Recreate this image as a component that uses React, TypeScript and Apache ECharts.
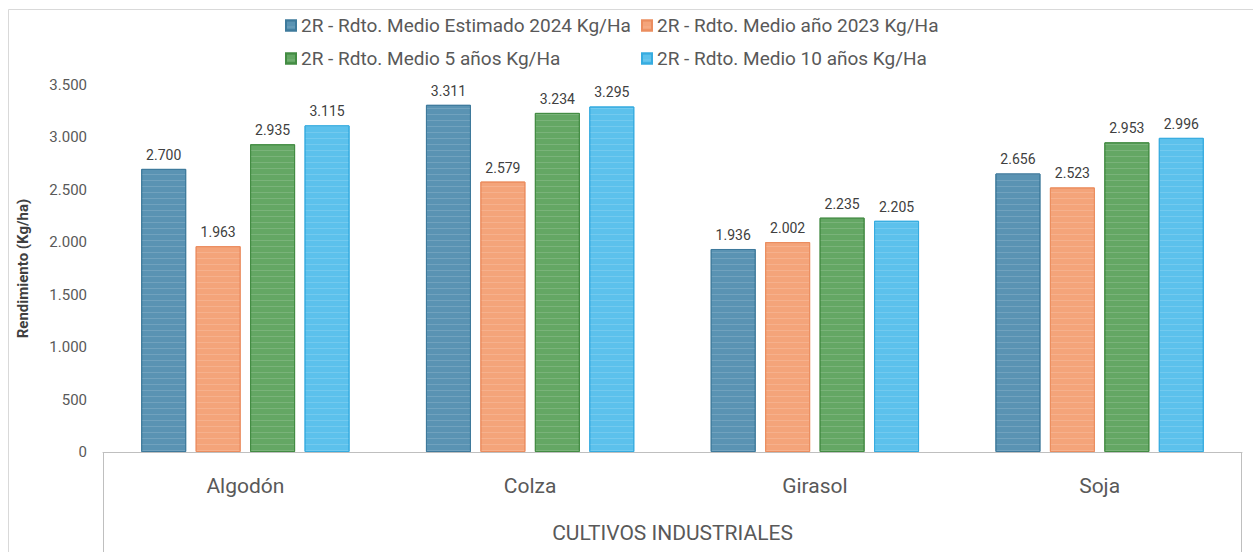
import React, { useEffect, useRef } from "react";
import * as echarts from "echarts";

const categories = ["Algodón", "Colza", "Girasol", "Soja"];
const seriesNames = [
  "2R - Rdto. Medio Estimado 2024 Kg/Ha",
  "2R - Rdto. Medio año 2023 Kg/Ha",
  "2R - Rdto. Medio 5 años Kg/Ha",
  "2R - Rdto. Medio 10 años Kg/Ha",
];
const est2024 = [2700, 3311, 1936, 2656];
const anio2023 = [1963, 2579, 2002, 2523];
const medio5 = [2935, 3234, 2235, 2953];
const medio10 = [3115, 3295, 2205, 2996];
const yMin = 0;
const yMax = 3500;
const yStep = 500;
const groupLabel = "CULTIVOS INDUSTRIALES";
const yTitle = "Rendimiento (Kg/ha)";

const fills = ["#5A93B3", "#F4A47A", "#64A764", "#5CC1EC"];
const borders = ["#3E7A9C", "#EB8D5F", "#438C43", "#36ACE0"];

const fmt = (v: number) =>
  String(Math.round(v)).replace(/\B(?=(\d{3})+(?!\d))/g, ".");

export default function App() {
  const ref = useRef<HTMLDivElement>(null);
  useEffect(() => {
    document.body.style.margin = "0";
    const chart = echarts.init(ref.current!, null, { renderer: "svg" });
    const W = 1253;
    const H = 552;
    const gl = 103;
    const gr = 11;
    const gt = 85;
    const gb = 100;
    const font = "Roboto, 'Noto Sans', sans-serif";
    const values = [est2024, anio2023, medio5, medio10];
    const legendPos = [
      [280, 11],
      [636, 11],
      [280, 44],
      [636, 44],
    ];
    chart.setOption({
      animation: false,
      backgroundColor: "#ffffff",
      textStyle: { fontFamily: font },
      grid: { left: gl, right: gr, top: gt, bottom: gb, containLabel: false },
      legend: seriesNames.map((n, i) => ({
        data: [n],
        left: legendPos[i][0],
        top: legendPos[i][1],
        itemWidth: 10,
        itemHeight: 10,
        itemGap: 6,
        icon: "rect",
        textStyle: { color: "#595959", fontSize: 19, fontFamily: font },
      })),
      xAxis: {
        type: "category",
        data: categories,
        axisLine: { show: true, lineStyle: { color: "#BFBFBF", width: 1 } },
        axisTick: { show: false },
        axisLabel: { color: "#595959", fontSize: 21, margin: 23, fontFamily: font },
        name: groupLabel,
        nameLocation: "middle",
        nameGap: 70,
        nameTextStyle: { color: "#595959", fontSize: 21, fontFamily: font },
      },
      yAxis: {
        type: "value",
        min: yMin,
        max: yMax,
        interval: yStep,
        axisLine: { show: false },
        axisTick: { show: false },
        splitLine: { show: false },
        axisLabel: {
          color: "#595959",
          fontSize: 15,
          margin: 16,
          fontFamily: font,
          formatter: (v: number) => fmt(v),
        },
        name: yTitle,
        nameLocation: "middle",
        nameGap: 73,
        nameRotate: 90,
        nameTextStyle: { color: "#404040", fontSize: 15, fontWeight: "bold", fontFamily: font },
      },
      series: seriesNames.map((n, i) => ({
        name: n,
        type: "bar",
        data: values[i],
        barWidth: 45,
        barGap: "21%",
        itemStyle: {
          color: fills[i],
          borderColor: borders[i],
          borderWidth: 1,
          decal: {
            symbol: "rect",
            symbolSize: 1,
            dashArrayX: [[1, 0]],
            dashArrayY: [1, 5],
            color: "rgba(255,255,255,0.14)",
            rotation: 0,
          },
        },
        label: {
          show: true,
          position: "top",
          distance: 7,
          color: "#404040",
          fontSize: 14,
          fontFamily: font,
          formatter: (p: any) => fmt(p.value),
        },
      })),
      graphic: [
        {
          type: "rect",
          shape: { x: 8.5, y: 9.5, width: W + 20, height: H + 20 },
          style: { fill: "none", stroke: "#D9D9D9", lineWidth: 1 },
          silent: true,
        },
        {
          type: "line",
          shape: { x1: gl + 0.5, y1: H - gb, x2: gl + 0.5, y2: H + 5 },
          style: { stroke: "#BFBFBF", lineWidth: 1 },
          silent: true,
        },
        {
          type: "line",
          shape: { x1: W - gr - 0.5, y1: H - gb, x2: W - gr - 0.5, y2: H + 5 },
          style: { stroke: "#BFBFBF", lineWidth: 1 },
          silent: true,
        },
      ],
    });
    return () => chart.dispose();
  }, []);
  return <div ref={ref} style={{ width: 1253, height: 552 }} />;
}
